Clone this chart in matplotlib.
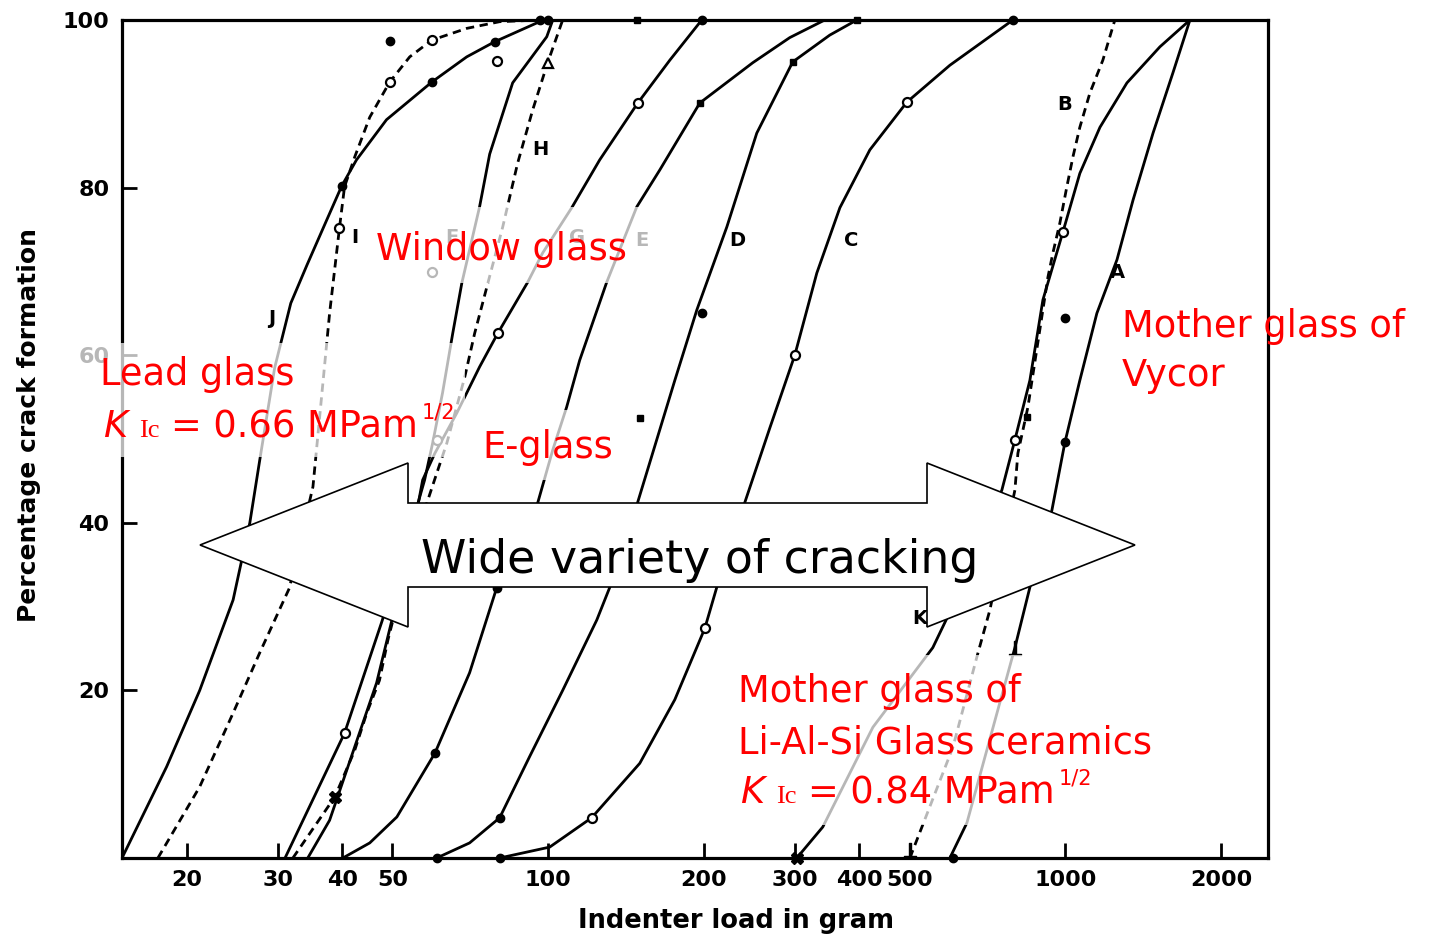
import matplotlib
matplotlib.use("Agg")
import matplotlib.pyplot as plt
from matplotlib.patches import Polygon, Rectangle
from matplotlib.ticker import NullLocator

W, H = 1432, 942

# curves: indenter load (g) vs % crack formation
j_load = [15.0, 18.3, 21.2, 24.6, 26.5, 27.7, 29.6, 31.8, 34.2, 37.3, 39.9, 42.6, 48.7, 59.6, 69.6, 78.8, 96.3, 102]
j_pct = [0, 10.9, 20.0, 30.8, 40.0, 47.5, 58.5, 66.2, 70.8, 76.1, 80.2, 83.3, 88.1, 92.6, 95.6, 97.4, 99.8, 100]
i_load = [17.6, 21.2, 24.6, 27.7, 31.6, 35.1, 37.8, 39.5, 40.4, 42.3, 45.2, 49.4, 54.0, 59.6, 69.6, 80.6, 96.3]
i_pct = [0, 8.5, 17.3, 24.5, 32.2, 44.3, 65.0, 75.2, 80.1, 83.7, 88.4, 92.6, 95.6, 97.6, 99.0, 99.8, 100]
f_load = [31.0, 40.4, 47.7, 52.8, 57.7, 59.8, 62.5, 65.4, 68.1, 73.7, 77.1, 85.4, 99.4, 102.1]
f_pct = [0, 14.9, 28.2, 36.8, 45.1, 49.5, 55.5, 62.6, 68.6, 77.7, 84.0, 92.5, 98.0, 100]
h_load = [32.1, 38.7, 42.3, 44.6, 47.2, 49.0, 54.0, 60.9, 63.7, 69.0, 72.1, 76.1, 81.7, 87.3, 93.4, 99.8, 106.7]
h_pct = [0, 7.3, 12.9, 17.3, 21.2, 26.0, 36.2, 45.9, 49.5, 57.4, 62.6, 68.1, 75.3, 82.9, 89.3, 94.9, 100]
g_load = [34.3, 37.8, 46.6, 49.8, 54.0, 57.2, 60.4, 66.6, 73.7, 79.9, 91.3, 97.6, 111.1, 125.8, 149.1, 171.9, 198.2]
g_pct = [0, 4.5, 20.9, 28.2, 36.8, 45.1, 48.3, 53.1, 58.6, 62.6, 68.7, 72.2, 77.6, 83.3, 90.1, 95.2, 100]
e_load = [40.1, 45.2, 51.0, 60.4, 70.5, 79.5, 95.5, 102.1, 108.6, 115.1, 129.8, 148.4, 164.4, 196.5, 248.7, 293.3, 342.7]
e_pct = [0, 1.8, 4.9, 12.5, 22.1, 32.2, 42.4, 48.7, 53.8, 59.4, 68.7, 77.7, 82.1, 90.1, 94.9, 97.9, 100]
d_load = [60.9, 70.5, 80.6, 92.1, 106.7, 124.2, 131.6, 149.1, 175.8, 193.9, 221.6, 253.2, 297.2, 350.5, 395.3]
d_pct = [0, 1.8, 4.8, 12.1, 20.0, 28.4, 32.3, 42.5, 57.0, 65.4, 75.3, 86.5, 95.0, 98.2, 100]
c_load = [80.6, 100.7, 121.4, 150.4, 175.8, 200.9, 211.9, 240.0, 268.3, 299.9, 330.8, 366.6, 418.9, 494.0, 598.2, 792.0]
c_pct = [0, 1.3, 4.8, 11.3, 18.9, 27.4, 32.3, 42.4, 51.3, 60.0, 69.8, 77.6, 84.5, 90.2, 94.6, 100]
k_load = [302.6, 339.7, 424.6, 554.4, 590.3, 754.0, 799.1, 854.2, 905.2, 989.5, 1067, 1167, 1316, 1524, 1742]
k_pct = [0, 3.7, 15.6, 25.1, 28.6, 43.9, 49.9, 57.0, 66.6, 74.7, 81.7, 87.2, 92.5, 96.8, 100]
b_load = [500.6, 606.3, 674.7, 714.9, 799.1, 809.8, 846.7, 925.6, 946.4, 976.4, 1007, 1035, 1067, 1116, 1182, 1247]
b_pct = [0, 13.2, 24.0, 29.6, 43.9, 48.3, 53.8, 69.3, 72.2, 75.8, 80.1, 83.7, 87.2, 91.3, 95.2, 100]
a_load = [598.2, 645.4, 799.1, 854.2, 942.2, 998.4, 1067, 1151, 1259, 1352, 1478, 1615, 1742]
a_pct = [0, 4.2, 25.1, 32.3, 41.5, 49.6, 57.0, 65.0, 71.4, 78.5, 86.5, 93.7, 100]

# measured points
dot_load = [40.0, 59.6, 78.8, 49.4, 60.4, 79.5, 60.9, 80.6, 80.6, 99.8, 96.3, 198.2, 198.2, 792.0, 998.4, 998.4, 606.3]
dot_pct = [80.2, 92.6, 97.4, 97.5, 12.5, 32.2, 0, 4.8, 0, 100, 100, 100, 65.0, 100, 49.6, 64.4, 0]
square_load = [196.5, 297.2, 150.4, 148.4, 395.3, 842]
square_pct = [90.1, 95.0, 52.5, 100, 100, 52.6]
ring_load = [39.5, 49.4, 59.6, 79.5, 59.6, 60.9, 40.4, 79.9, 149.1, 121.4, 200.9, 299.9, 494.0, 799.1, 989.5]
ring_pct = [75.2, 92.6, 97.6, 95.1, 69.9, 49.9, 14.9, 62.6, 90.1, 4.8, 27.4, 60.0, 90.2, 49.9, 74.7]
tri_load = [99.8]
tri_pct = [94.9]
cross_load = [38.7, 302.6]
cross_pct = [7.3, 0]
perp_load = [799.1, 500.6]
perp_pct = [25.1, 1.0]

label_text = ["J", "I", "H", "F", "G", "E", "D", "C", "B", "A", "K"]
label_load = [29.2, 42.3, 96.8, 65.1, 113.6, 151.7, 231.7, 385, 998, 1260, 523]
label_pct = [64.4, 74.0, 84.5, 74.1, 74.1, 73.7, 73.7, 73.7, 89.9, 69.9, 28.6]

x_ticks = [20, 30, 40, 50, 100, 200, 300, 400, 500, 1000, 2000]
y_ticks = [20, 40, 60, 80, 100]


def fx(x):
    return x / W


def fy(y):
    return 1 - y / H


def k_line(x0, base, value):
    # K_Ic = ... MPa m^1/2 built piece by piece
    r = fig.canvas.get_renderer()
    x = x0
    pieces = [("K", dict(style="italic", fontsize=26.5), 0, 12),
              ("Ic", dict(family="Liberation Serif", fontsize=19), 0, 11),
              ("= " + value + " MPam", dict(fontsize=26.5), 0, 4),
              ("1/2", dict(fontsize=15), 18, 0)]
    for txt, kw, rise, gap in pieces:
        t = fig.text(fx(x), fy(base - rise), txt, color="red", va="baseline",
                     ha="left", zorder=6, **kw)
        x += t.get_window_extent(r).width + gap


fig = plt.figure(figsize=(14.32, 9.42), dpi=100)
ax = fig.add_axes([122 / W, 1 - 858 / H, 1146 / W, 838 / H])

solid = dict(color="black", lw=2.0, solid_joinstyle="round")
dashed = dict(color="black", lw=2.0, ls=(0, (3, 2)))
for xs, ys, st in [(j_load, j_pct, solid), (i_load, i_pct, dashed), (f_load, f_pct, solid),
                   (h_load, h_pct, dashed), (g_load, g_pct, solid), (e_load, e_pct, solid),
                   (d_load, d_pct, solid), (c_load, c_pct, solid), (k_load, k_pct, solid),
                   (b_load, b_pct, dashed), (a_load, a_pct, solid)]:
    ax.plot(xs, ys, **st)

ax.plot(dot_load, dot_pct, "o", color="black", ms=6, clip_on=False)
ax.plot(square_load, square_pct, "s", color="black", ms=5, clip_on=False)
ax.plot(ring_load, ring_pct, "o", mfc="white", mec="black", mew=1.6, ms=6.5)
ax.plot(tri_load, tri_pct, "^", mfc="white", mec="black", mew=1.6, ms=7)
ax.plot(cross_load, cross_pct, "X", color="black", ms=8, clip_on=False)
ax.plot(perp_load, perp_pct, marker=r"$\perp$", ls="none", color="black", ms=10, clip_on=False)

for s, x, y in zip(label_text, label_load, label_pct):
    ax.text(x, y, s, fontsize=14, fontweight="bold", ha="center", va="center")

ax.set_xscale("log")
ax.set_xlim(15.0, 2466)
ax.set_ylim(0, 100)
ax.set_xticks(x_ticks)
ax.set_xticklabels([str(t) for t in x_ticks])
ax.xaxis.set_minor_locator(NullLocator())
ax.set_yticks(y_ticks)
ax.set_yticklabels([str(t) for t in y_ticks])
ax.tick_params(direction="in", length=11, width=2, labelsize=16, pad=9)
for lab in ax.get_xticklabels() + ax.get_yticklabels():
    lab.set_fontweight("bold")
for sp in ax.spines.values():
    sp.set_linewidth(2.3)

ax.set_xlabel("Indenter load in gram", fontsize=18.5, fontweight="bold")
ax.xaxis.set_label_coords(0.536, -0.06)
ax.set_ylabel("Percentage crack formation", fontsize=18, fontweight="bold")
ax.yaxis.set_label_coords(-0.071, 0.517)

# half-transparent white boxes behind the red notes
for x0, y0, x1, y1 in [(368, 207, 650, 283), (72, 343, 465, 457),
                       (472, 410, 625, 480), (728, 655, 1165, 825)]:
    fig.add_artist(Rectangle((fx(x0), fy(y1)), (x1 - x0) / W, (y1 - y0) / H,
                             transform=fig.transFigure, facecolor="white",
                             edgecolor="none", alpha=0.72, zorder=3))

red = dict(color="red", fontsize=26.5, va="baseline", ha="left", zorder=6)
fig.text(fx(376), fy(260), "Window glass", **red)
fig.text(fx(100), fy(385), "Lead glass", **red)
fig.text(fx(482), fy(458), "E-glass", **red)
fig.text(fx(1122), fy(337), "Mother glass of", **red)
fig.text(fx(1122), fy(386), "Vycor", **red)
fig.text(fx(738), fy(702), "Mother glass of", **red)
fig.text(fx(738), fy(753), "Li-Al-Si Glass ceramics", **red)
k_line(103, 437, "0.66")
k_line(740, 803, "0.84")

# double block arrow
arrow_px = [(200, 545), (408, 463), (408, 503), (927, 503), (927, 463), (1135, 545),
            (927, 627), (927, 587), (408, 587), (408, 627)]
fig.add_artist(Polygon([(fx(x), fy(y)) for x, y in arrow_px], closed=True,
                       transform=fig.transFigure, facecolor="white",
                       edgecolor="black", lw=1.2, zorder=7))
fig.text(fx(700), fy(573), "Wide variety of cracking", fontsize=33, color="black",
         ha="center", va="baseline", zorder=8)

fig.savefig("out.png", dpi=100)
